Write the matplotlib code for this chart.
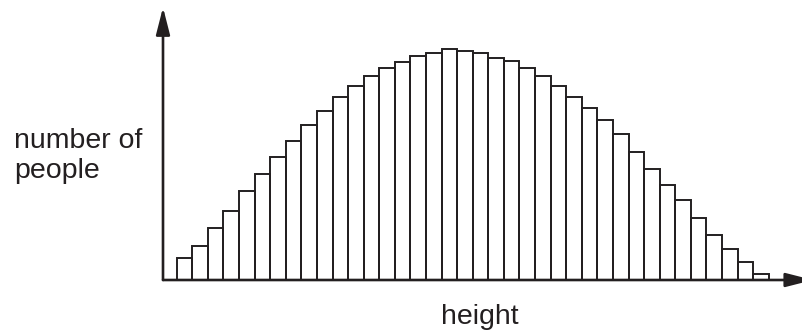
import numpy as np
import matplotlib
matplotlib.use('Agg')
import matplotlib.pyplot as plt

# bar heights (one bar per height class)
counts = [22, 34, 52, 69, 89, 106, 123, 139, 155, 169, 183, 194, 204, 212,
          218, 224, 227, 231, 229, 227, 222, 219, 212, 204, 194, 183, 172,
          160, 146, 128, 111, 95, 80, 62, 45, 31, 18, 6]
x_label = 'height'
y_label = 'number of\npeople'

plt.rcParams['font.family'] = ['Liberation Sans', 'DejaVu Sans']
ink = '#231f20'

fig = plt.figure(figsize=(8.03, 3.34), dpi=100)
ax = fig.add_axes([163 / 803, 54 / 334, 650 / 803, 272.7 / 334])

bins = np.arange(len(counts))
ax.bar(bins, counts, width=1, align='edge', fill=False,
       edgecolor=ink, linewidth=1.4, zorder=2)

ax.set_xlim(-0.88, 40.84)
ax.set_ylim(0, 272.7)
for s in ax.spines.values():
    s.set_visible(False)
ax.set_xticks([])
ax.set_yticks([])

arrow = dict(arrowstyle='-|>,head_length=16.5,head_width=4.2', color=ink,
             lw=1.9, shrinkA=0, shrinkB=0, mutation_scale=1)
ax.annotate('', xy=(1, 0), xytext=(0, 0), xycoords='axes fraction',
            arrowprops=arrow, annotation_clip=False, zorder=3)
ax.annotate('', xy=(0, 1), xytext=(0, 0), xycoords='axes fraction',
            arrowprops=arrow, annotation_clip=False, zorder=3)

fig.text(480 / 803, 1 - 324 / 334, x_label, ha='center', va='baseline',
         fontsize=20.5, color=ink)
fig.text(14 / 803, 1 - 178 / 334, y_label, ha='left', va='baseline',
         fontsize=20.5, color=ink, linespacing=1.18)

fig.savefig('out.png', dpi=100)
